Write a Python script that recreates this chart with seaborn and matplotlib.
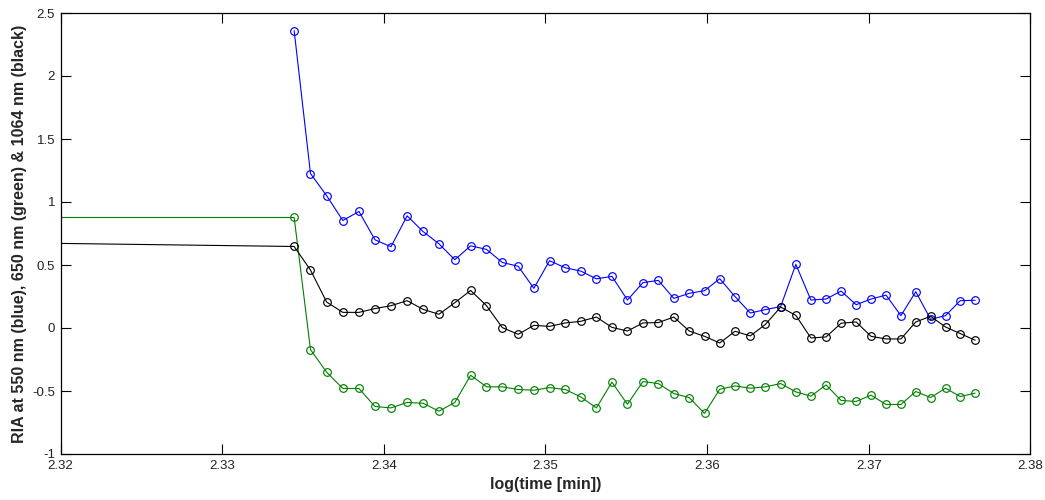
import numpy as np
import pandas as pd
import matplotlib
matplotlib.use("Agg")
import matplotlib.pyplot as plt
import seaborn as sns
from matplotlib.ticker import FormatStrFormatter, FuncFormatter

# log10(time [min]); first entry is an earlier point lying left of the visible range
log_time = [2.3000,
            2.33445, 2.33546, 2.33646, 2.33746, 2.33846, 2.33945, 2.34044, 2.34144, 2.34242,
            2.34341, 2.34439, 2.34537, 2.34635, 2.34733, 2.34831, 2.34928, 2.35025, 2.35122,
            2.35218, 2.35315, 2.35411, 2.35507, 2.35603, 2.35698, 2.35794, 2.35889, 2.35984,
            2.36078, 2.36173, 2.36267, 2.36361, 2.36455, 2.36549, 2.36642, 2.36736, 2.36829,
            2.36922, 2.37014, 2.37107, 2.37199, 2.37291, 2.37383, 2.37475, 2.37566, 2.37658]

ria_550 = [np.nan,
           2.36, 1.226, 1.05, 0.853, 0.925, 0.70, 0.645, 0.89, 0.766,
           0.668, 0.542, 0.652, 0.624, 0.52, 0.49, 0.315, 0.534, 0.478,
           0.452, 0.39, 0.41, 0.222, 0.36, 0.378, 0.235, 0.275, 0.296,
           0.391, 0.249, 0.119, 0.146, 0.17, 0.505, 0.222, 0.23, 0.293,
           0.185, 0.23, 0.261, 0.098, 0.288, 0.069, 0.098, 0.217, 0.22]

ria_650 = [0.877,
           0.877, -0.171, -0.351, -0.48, -0.48, -0.623, -0.634, -0.591, -0.597,
           -0.66, -0.591, -0.375, -0.467, -0.467, -0.488, -0.494, -0.473, -0.488,
           -0.547, -0.634, -0.43, -0.605, -0.425, -0.441, -0.52, -0.552, -0.678,
           -0.486, -0.46, -0.478, -0.467, -0.441, -0.507, -0.541, -0.452, -0.575,
           -0.583, -0.533, -0.607, -0.607, -0.504, -0.552, -0.478, -0.544, -0.517]

ria_1064 = [0.705,
            0.647, 0.46, 0.206, 0.124, 0.124, 0.154, 0.177, 0.217, 0.148,
            0.109, 0.201, 0.298, 0.177, 0.003, -0.05, 0.021, 0.013, 0.04,
            0.053, 0.087, 0.005, -0.024, 0.04, 0.043, 0.087, -0.024, -0.066,
            -0.119, -0.026, -0.063, 0.029, 0.166, 0.1, -0.079, -0.071, 0.038,
            0.048, -0.066, -0.087, -0.087, 0.048, 0.093, 0.008, -0.044, -0.097]

x_ticks = [2.32, 2.33, 2.34, 2.35, 2.36, 2.37, 2.38]
y_ticks = [-1, -0.5, 0, 0.5, 1, 1.5, 2, 2.5]

sns.set_theme(style="white")
plt.rcParams['font.family'] = ['Liberation Sans', 'DejaVu Sans']
plt.rcParams['axes.unicode_minus'] = False

fig = plt.figure(figsize=(10.45, 5.0), dpi=100)
ax = fig.add_axes([0.058, 0.092, 0.928, 0.882])

df = pd.DataFrame({"x": log_time, "b": ria_550, "g": ria_650, "k": ria_1064})

series = [("b", "#0000ff"), ("g", "#008000"), ("k", "#000000")]
for col, color in series:
    sub = df[["x", col]].dropna()
    sns.lineplot(data=sub, x="x", y=col, ax=ax, color=color, lw=0.8,
                 sort=False, estimator=None, marker="o", markersize=5.5,
                 markerfacecolor="none", markeredgecolor=color,
                 markeredgewidth=0.85, legend=False)

ax.set_xlim(2.32, 2.38)
ax.set_ylim(-1, 2.5)
ax.set_xticks(x_ticks)
ax.set_yticks(y_ticks)
ax.xaxis.set_major_formatter(FormatStrFormatter('%.2f'))
ax.yaxis.set_major_formatter(FuncFormatter(lambda v, p: '%g' % v))

ax.tick_params(direction="in", length=7, width=0.8, colors="black",
               labelsize=9.5, top=True, right=True, bottom=True, left=True,
               pad=4)
for lbl in ax.get_xticklabels() + ax.get_yticklabels():
    lbl.set_color("#222222")
for s in ax.spines.values():
    s.set_visible(True)
    s.set_color("black")
    s.set_linewidth(0.9)

ax.set_xlabel("log(time [min])", fontsize=11.5, fontweight="bold", labelpad=4)
ax.set_ylabel("RIA at 550 nm (blue), 650 nm (green) & 1064 nm (black)",
              fontsize=11.5, fontweight="bold", labelpad=4)

fig.savefig("out.png", dpi=100, facecolor="white")
